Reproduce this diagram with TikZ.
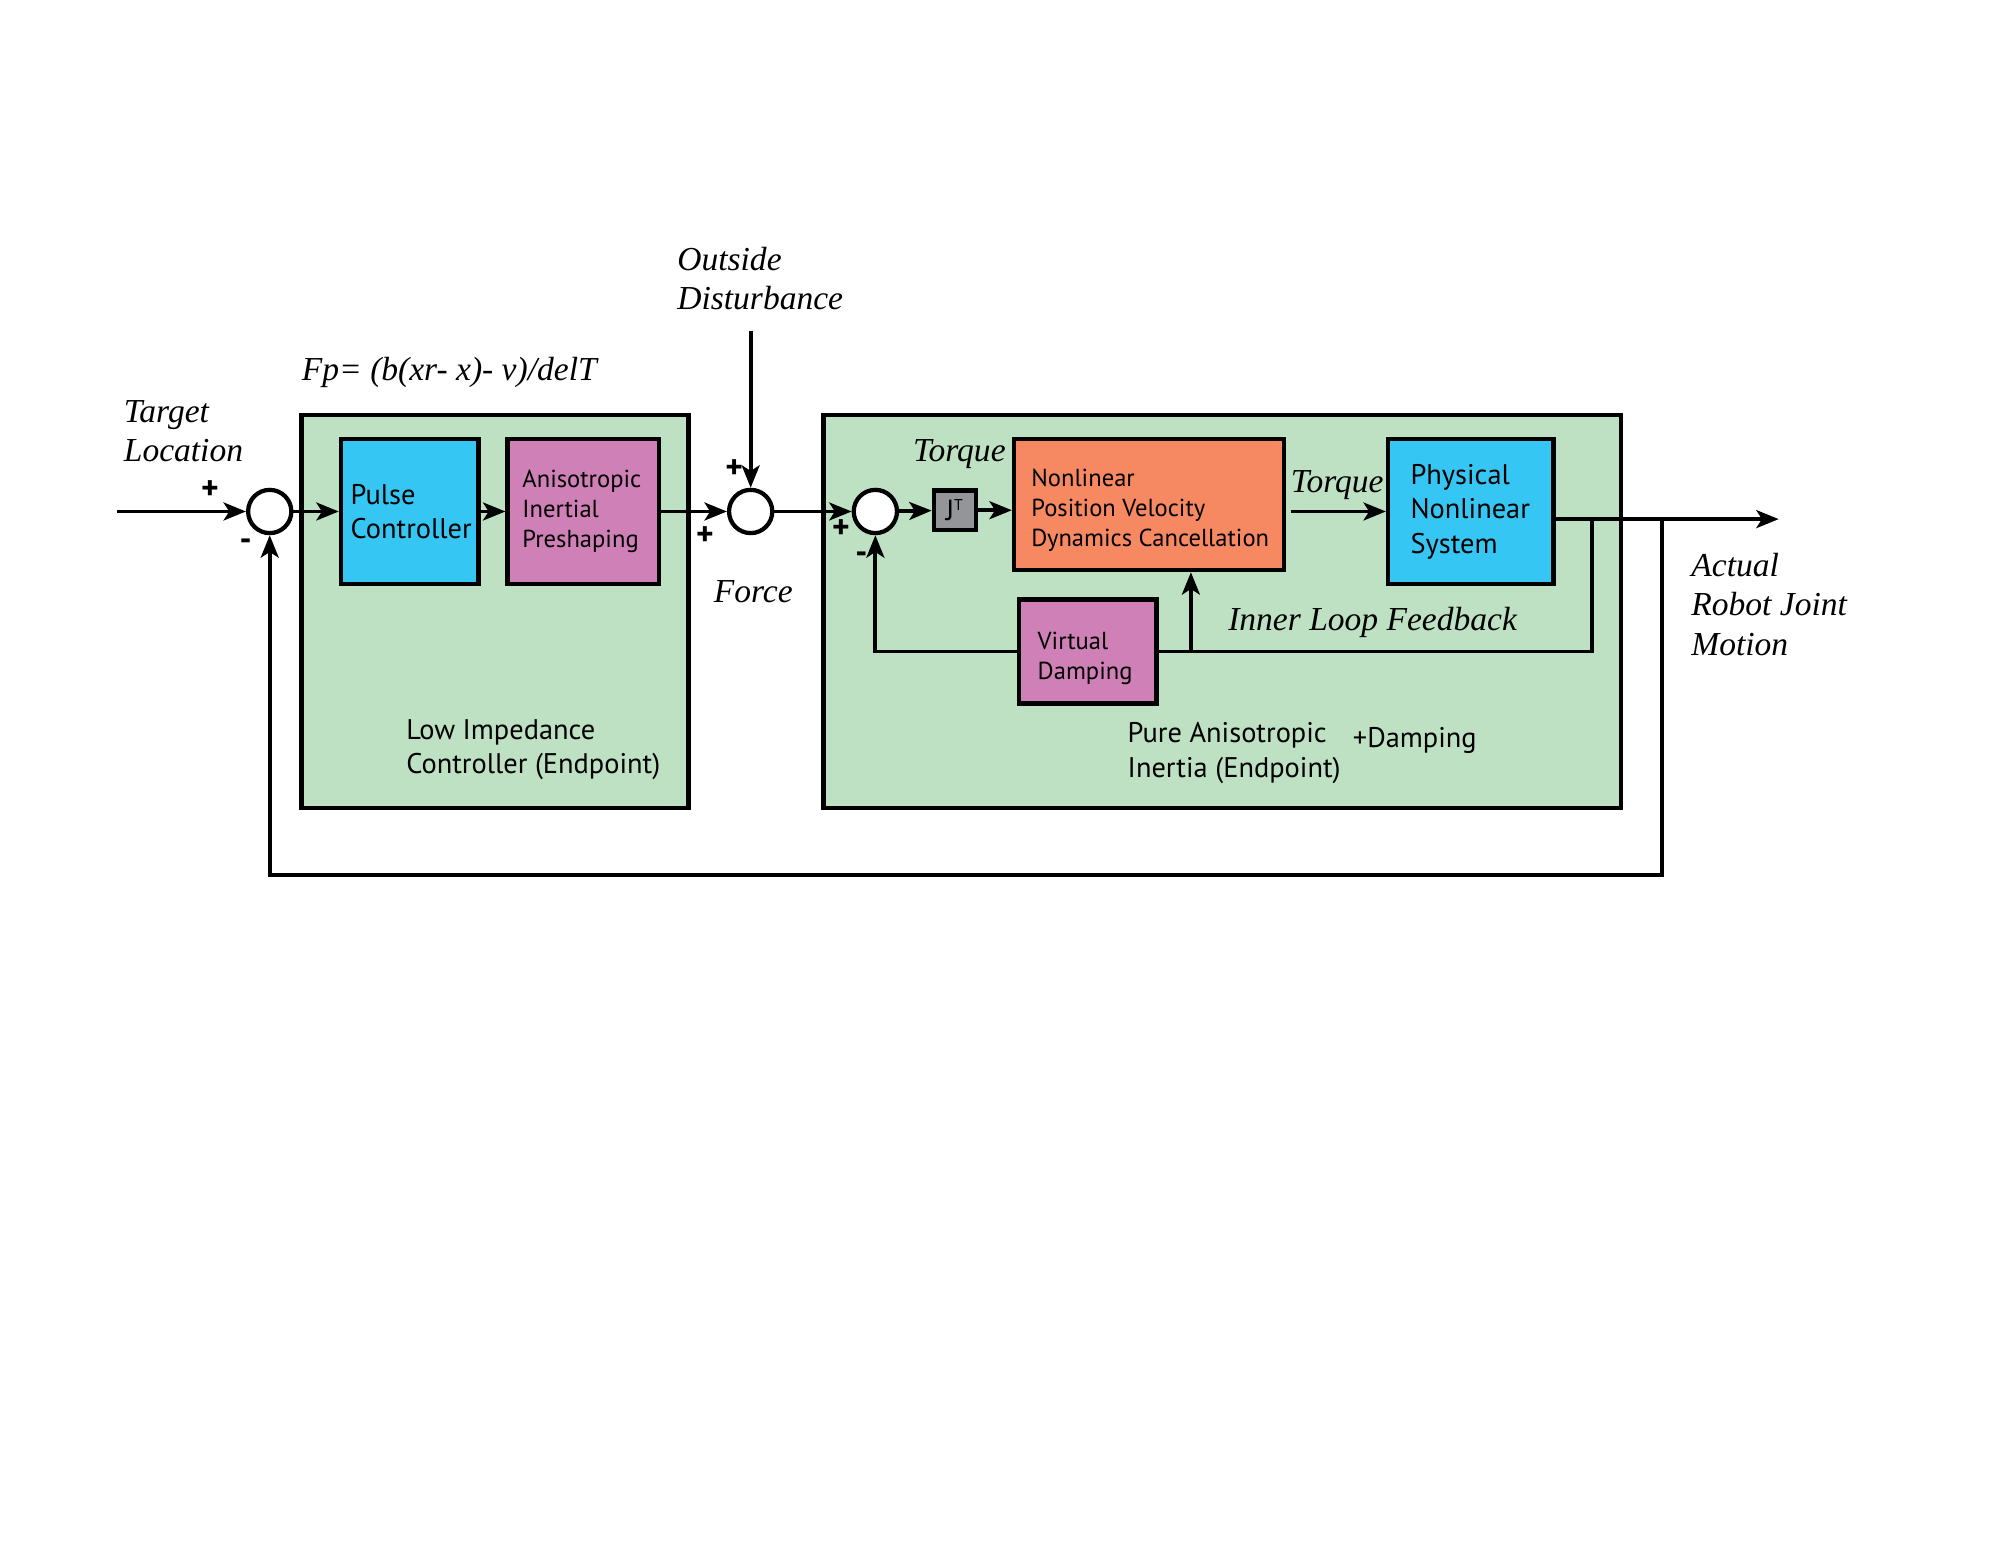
\documentclass[tikz,border=0pt]{standalone}
\usepackage{fontspec}
\setmainfont{Liberation Serif}
\setsansfont{PT Sans}
\usetikzlibrary{arrows.meta}

\definecolor{panelgreen}{RGB}{190,224,195}
\definecolor{blockcyan}{RGB}{53,198,244}
\definecolor{blockpink}{RGB}{207,128,182}
\definecolor{blockorange}{RGB}{246,136,98}
\definecolor{blockgray}{RGB}{147,149,152}

\tikzset{
	panel/.style={draw, line width=2pt, fill=panelgreen, inner sep=0pt},
	blk/.style={draw, line width=2pt, inner sep=0pt},
	sumnode/.style={circle, draw, line width=1.9pt, fill=white, minimum size=0.68cm, inner sep=0pt},
	sig/.style={line width=1.7pt, -{Stealth[length=10pt, width=8pt, inset=2.5pt]}},
	wire/.style={line width=1.7pt},
	bigtxt/.style={font=\sffamily\fontsize{12.7}{15.4}\selectfont, align=left, inner sep=0pt},
	smalltxt/.style={font=\sffamily\fontsize{11}{13.4}\selectfont, align=left, inner sep=0pt},
	itxt/.style={font=\rmfamily\itshape\fontsize{15}{17.6}\selectfont, align=left, inner sep=0pt},
	sgn/.style={font=\sffamily\bfseries\fontsize{15}{15}\selectfont, inner sep=0pt}
}

\begin{document}
\begin{tikzpicture}[x=0.02cm, y=-0.02cm]
	\useasboundingbox (0,0) rectangle (1568,1211);

	% the two green panels
	\node[panel, minimum width=6.08cm, minimum height=6.18cm] (lowpanel) at (389,480.5) {};
	\node[panel, minimum width=12.54cm, minimum height=6.18cm] (purepanel) at (960.5,480.5) {};

	% blocks
	\node[blk, fill=blockcyan, minimum width=2.16cm, minimum height=2.28cm] (pulse) at (322,402) {};
	\node[blk, fill=blockpink, minimum width=2.38cm, minimum height=2.28cm] (aniso) at (458.5,402) {};
	\node[blk, fill=blockgray, minimum width=0.66cm, minimum height=0.62cm, font=\sffamily\fontsize{13}{13}\selectfont] (jt) at (750.5,401) {J\textsuperscript{\scriptsize T}};
	\node[blk, fill=blockorange, minimum width=4.24cm, minimum height=2.06cm] (nonlin) at (903,396.5) {};
	\node[blk, fill=blockcyan, minimum width=2.6cm, minimum height=2.28cm] (phys) at (1156,402) {};
	\node[blk, fill=blockpink, minimum width=2.16cm, minimum height=1.64cm] (vdamp) at (855,512) {};

	\node[bigtxt, anchor=west] (pulsetxt) at ([xshift=0.18cm]pulse.west) {Pulse\\Controller};
	\node[smalltxt, anchor=west] (anisotxt) at ([xshift=0.26cm]aniso.west) {Anisotropic\\Inertial\\Preshaping};
	\node[smalltxt, anchor=west] (nonlintxt) at ([xshift=0.3cm,yshift=-0.09cm]nonlin.west) {Nonlinear\\Position Velocity\\Dynamics Cancellation};
	\node[bigtxt, anchor=west] (phystxt) at ([xshift=0.38cm]phys.west) {Physical\\Nonlinear\\System};
	\node[smalltxt, anchor=west] (vdamptxt) at ([xshift=0.32cm,yshift=-0.11cm]vdamp.west) {Virtual\\Damping};

	% summing junctions
	\node[sumnode] (sum1) at (212,402) {};
	\node[sumnode] (sum2) at (590,402) {};
	\node[sumnode] (sum3) at (688,402) {};

	% forward path
	\coordinate (target) at (92,402);
	\coordinate (dist) at (590,260);
	\coordinate (out) at (1398,408);
	\draw[sig] (target) -- (sum1);
	\draw[sig] (sum1) -- (pulse);
	\draw[sig] (pulse) -- (aniso);
	\draw[sig] (aniso) -- (sum2);
	\draw[sig] (dist) -- (sum2);
	\draw[sig] (sum2) -- (sum3);
	\draw[sig] (sum3) -- (jt);
	\draw[sig] (jt.east) -- (jt.east -| nonlin.west);
	\draw[sig] ([xshift=0.08cm]nonlin.east |- phys.west) -- (phys.west);
	\draw[sig] (phys.east |- out) -- (out);

	% inner loop
	\coordinate (tapin) at (1251,408);
	\coordinate (tapup) at (936,512);
	\draw[wire] (tapin) |- (vdamp.east);
	\draw[sig] (tapup) -- (tapup |- nonlin.south);
	\draw[sig] (vdamp.west) -| (sum3.south);

	% outer loop
	\coordinate (tapout) at (1306,408);
	\coordinate (fb) at (1306,688);
	\draw[sig] (tapout) -- (fb) -| (sum1.south);

	% labels
	\node[itxt, anchor=west] (lbltarget) at (97,339) {Target\\Location};
	\node[itxt, anchor=west] (lbldist) at (532,219) {Outside\\Disturbance};
	\node[itxt, anchor=west] (lblfp) at (237,293) {Fp= (b(xr- x)- v)/delT};
	\node[itxt] (lblforce) at (592,465) {Force};
	\node[itxt] (lbltorquea) at (754,357) {Torque};
	\node[itxt] (lbltorqueb) at (1051,381) {Torque};
	\node[itxt, anchor=west] (lblinner) at (965,489) {Inner Loop Feedback};
	\node[itxt, anchor=west] (lblactual) at (1329,475) {Actual\\Robot Joint\\Motion};
	\node[bigtxt, anchor=west] (lbllow) at (319,589) {Low Impedance\\Controller (Endpoint)};
	\node[bigtxt, anchor=west] (lblpure) at (886,592) {Pure Anisotropic\\Inertia (Endpoint)};
	\node[bigtxt, anchor=west] (lbldamp) at (1063,582) {+Damping};

	% signs
	\node[sgn] (pa) at (165,385) {+};
	\node[sgn] (ma) at (193,428) {-};
	\node[sgn] (pb) at (577,369) {+};
	\node[sgn] (pc) at (554,421) {+};
	\node[sgn] (pd) at (661,416) {+};
	\node[sgn] (mb) at (677,438) {-};

\end{tikzpicture}
\end{document}
